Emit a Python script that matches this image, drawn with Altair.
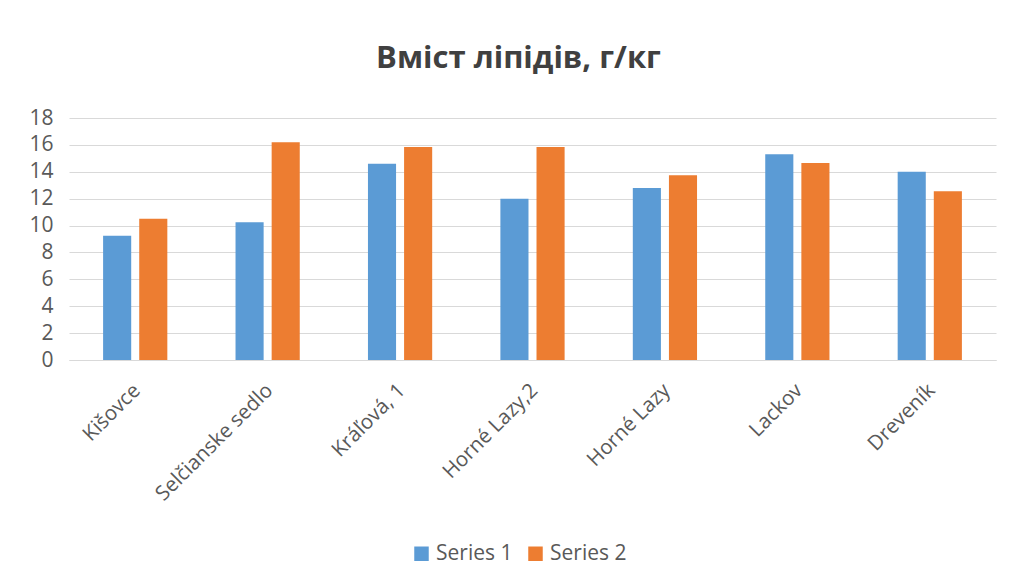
import altair as alt
import pandas as pd

categories = ["Kišovce", "Selčianske sedlo", "Kráľová, 1", "Horné Lazy,2",
              "Horné Lazy", "Lackov", "Dreveník"]
series1 = [9.25, 10.25, 14.6, 12.0, 12.8, 15.3, 14.0]
series2 = [10.5, 16.2, 15.85, 15.85, 13.75, 14.65, 12.55]
series_names = ["Series 1", "Series 2"]
colors = ["#5B9BD5", "#ED7D31"]
y_ticks = [0, 2, 4, 6, 8, 10, 12, 14, 16, 18]

rows = []
for c, a, b in zip(categories, series1, series2):
    rows.append({"cat": c, "series": series_names[0], "value": a})
    rows.append({"cat": c, "series": series_names[1], "value": b})
df = pd.DataFrame(rows)

FONT = "Open Sans"

chart = alt.Chart(df).mark_bar().encode(
    x=alt.X("cat:N", sort=categories, title=None,
            scale=alt.Scale(paddingInner=0.515, paddingOuter=0.2575),
            axis=alt.Axis(labelAngle=-45, labelAlign="right", labelBaseline="middle",
                          labelPadding=27, labelOffset=2, ticks=False, domainColor="#d9d9d9",
                          labelColor="#595959", labelFontSize=20.5, labelFont=FONT,
                          labelLimit=300)),
    xOffset=alt.XOffset("series:N", sort=series_names,
                        scale=alt.Scale(paddingInner=0.222, paddingOuter=0)),
    y=alt.Y("value:Q", title=None,
            scale=alt.Scale(domain=[0, 18], nice=False),
            axis=alt.Axis(values=y_ticks, ticks=False, domain=False,
                          gridColor="#d9d9d9", labelColor="#595959",
                          labelFontSize=21, labelFont=FONT, labelPadding=16)),
    color=alt.Color("series:N", sort=series_names,
                    scale=alt.Scale(domain=series_names, range=colors),
                    legend=alt.Legend(title=None, orient="none", direction="horizontal",
                                      legendX=342, legendY=425, symbolType="square",
                                      symbolSize=210, labelFontSize=21, labelFont=FONT,
                                      labelColor="#595959", columnPadding=12,
                                      symbolStrokeWidth=0)),
).properties(
    width=927,
    height=242,
    autosize="none",
    padding={"left": 61, "top": 110, "right": 9, "bottom": 216},
    title=alt.Title("Вміст ліпідів, г/кг", font=FONT, fontSize=31, fontWeight="bold",
                    color="#404040", offset=32, dx=-14),
).configure_view(stroke=None)

chart.save("out.html", embed_options={"renderer": "svg", "actions": False})
